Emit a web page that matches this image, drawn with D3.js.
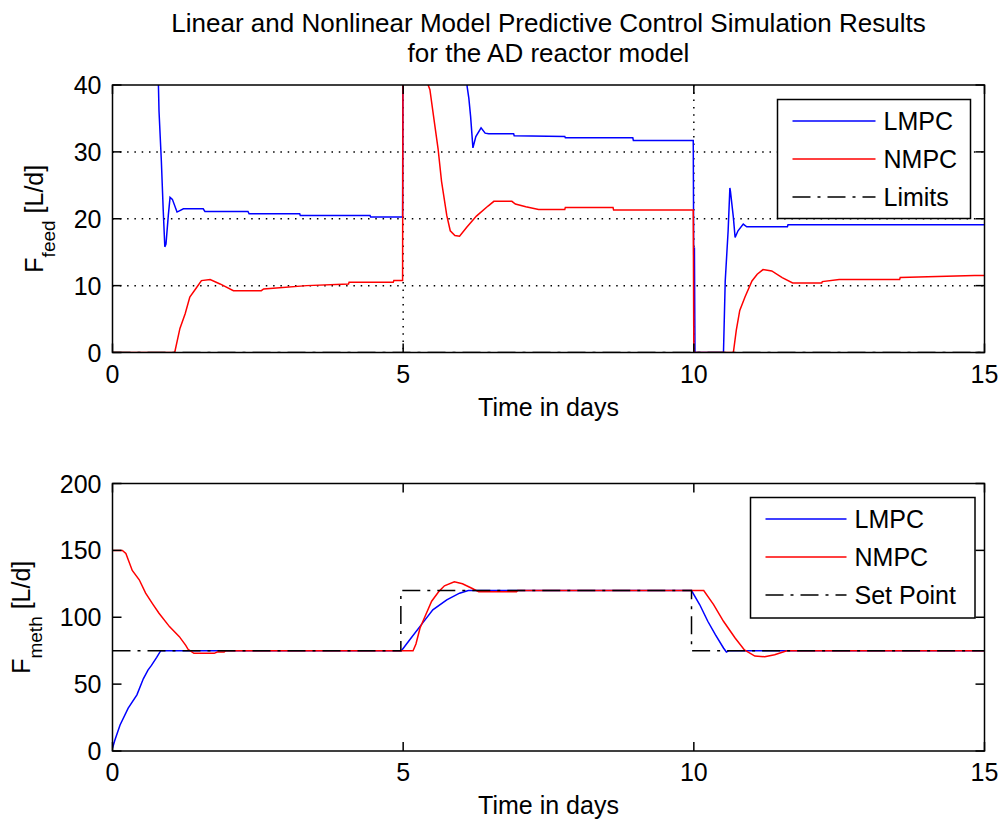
<!DOCTYPE html>
<html><head><meta charset="utf-8">
<script src="https://cdn.jsdelivr.net/npm/d3@7"></script>
<style>
body{margin:0;background:#fff;}
svg{display:block;}
text{font-family:"Liberation Sans",Arial,sans-serif;fill:#000;}
</style>
</head><body>
<svg id="c" width="999" height="825"></svg>
<script>
// ---------- data ----------
const titleLines = ["Linear and Nonlinear Model Predictive Control Simulation Results", "for the AD reactor model"];
const xLabel = "Time in days";
const xTicks = [0, 5, 10, 15];
const feedTicks = [0, 10, 20, 30, 40];
const methTicks = [0, 50, 100, 150, 200];
const feedGridX = [5, 10];
const feedGridY = [10, 20, 30];
const topLegend = ["LMPC", "NMPC", "Limits"];
const bottomLegend = ["LMPC", "NMPC", "Set Point"];

// F_feed, LMPC
const feedLmpcT = [0, 0.78, 0.79, 0.80, 0.84, 0.873, 0.90, 0.92, 0.96, 0.99, 1.03, 1.11, 1.22, 1.56, 1.59, 2.33, 2.35, 3.22, 3.23, 4.43, 4.44, 4.99,
  5.0, 6.09, 6.10, 6.13, 6.16, 6.20, 6.25, 6.34, 6.41, 6.47, 6.90, 6.91, 7.78, 7.79, 8.95, 8.96, 9.99,
  10.0, 10.01, 10.02, 10.5, 10.51, 10.54, 10.59, 10.62, 10.63, 10.68, 10.71, 10.76, 10.85, 10.91, 11.61, 11.62, 15];
const feedLmpcV = [60, 60, 40, 36.1, 28.7, 21.2, 15.8, 16.2, 20.5, 23.2, 22.9, 21.0, 21.5, 21.5, 21.1, 21.1, 20.75, 20.75, 20.5, 20.5, 20.25, 20.25,
  60, 60, 39.8, 38, 35.3, 30.6, 32.3, 33.6, 32.8, 32.7, 32.7, 32.4, 32.3, 32.1, 32.1, 31.7, 31.7,
  10.7, 15.7, 0, 0, 0, 10.7, 18.2, 24.6, 24.1, 20.2, 17.2, 18.2, 19.2, 18.8, 18.8, 19.1, 19.1];
// F_feed, NMPC
const feedNmpcT = [0, 1.07, 1.16, 1.25, 1.33, 1.45, 1.53, 1.68, 1.85, 2.08, 2.56, 2.60, 2.82, 3.34, 4.06, 4.07, 4.83, 4.84, 4.99,
  5.0, 5.42, 5.43, 5.46, 5.52, 5.60, 5.66, 5.75, 5.81, 5.89, 5.97, 6.09, 6.26, 6.46, 6.56, 6.87, 6.93, 7.11, 7.33, 7.78, 7.79, 8.61, 8.62, 9.99,
  10.0, 10.68, 10.73, 10.79, 10.88, 11.00, 11.09, 11.19, 11.34, 11.52, 11.70, 12.20, 12.21, 12.50, 13.54, 13.55, 14.83, 15];
const feedNmpcV = [0, 0, 3.6, 5.8, 8.3, 9.75, 10.75, 10.9, 10.25, 9.25, 9.25, 9.5, 9.65, 10, 10.25, 10.5, 10.5, 10.75, 10.75,
  60, 60, 40, 39.3, 35.5, 30.5, 25.6, 20.5, 18.2, 17.5, 17.4, 18.7, 20.4, 21.9, 22.6, 22.6, 22.2, 21.8, 21.4, 21.4, 21.7, 21.7, 21.3, 21.3,
  0, 0, 3.3, 6.3, 8.3, 10.7, 11.7, 12.4, 12.2, 11.2, 10.4, 10.4, 10.6, 10.9, 10.9, 11.2, 11.5, 11.5];
// F_feed limits
const feedLimitT = [0, 15];
const feedLimitLow = [0, 0];
const feedLimitHigh = [60, 60];

// F_meth, LMPC
const methLmpcT = [0, 0.04, 0.13, 0.27, 0.42, 0.53, 0.61, 0.67, 0.76, 0.83, 4.97, 5.11, 5.34, 5.51, 5.75, 5.97, 6.12, 9.96,
  10.10, 10.24, 10.37, 10.51, 10.56, 10.61, 15];
const methLmpcV = [2, 8, 19.5, 32, 42, 54, 60.5, 64, 70, 75, 75, 83, 96, 105.5, 113, 118, 120, 120,
  109.5, 97, 87, 77, 74, 75, 75];
// F_meth, NMPC
const methNmpcT = [0, 0.17, 0.23, 0.34, 0.46, 0.57, 0.69, 0.80, 0.98, 1.15, 1.26, 1.30, 1.40, 1.75, 1.80, 1.92, 1.95,
  5.17, 5.22, 5.29, 5.37, 5.49, 5.61, 5.71, 5.88, 6.02, 6.19, 6.30, 6.95, 6.97,
  10.17, 10.34, 10.51, 10.71, 10.87, 11.05, 11.22, 11.39, 11.60, 15];
const methNmpcV = [150, 150, 147.7, 135, 128, 118, 110, 103, 93, 85.5, 79, 76, 73, 73, 74, 74, 75,
  75, 80, 92, 100, 112, 119, 123.5, 126.5, 125, 121.5, 119, 119, 120,
  120, 109.5, 97, 84.5, 75.5, 71, 70.5, 72, 75, 75];
// F_meth set point
const methSetT = [0, 4.96, 4.96, 9.96, 9.96, 15];
const methSetV = [75, 75, 120, 120, 75, 75];

// ---------- drawing ----------
const svg = d3.select("#c");
const plotL = 112.5, plotR = 984.5;
const x = d3.scaleLinear().domain([0, 15]).range([plotL, plotR]);
const FS = 25;
const DASHDOT = "18,7,3,7";

svg.selectAll("text.title").data(titleLines).enter().append("text")
  .attr("x", (plotL + plotR) / 2).attr("y", (d, i) => 32 + i * 30)
  .attr("text-anchor", "middle").attr("font-size", 26).text(d => d);

function panel(cfg) {
  const y = d3.scaleLinear().domain(cfg.domain).range([cfg.bottom, cfg.top]);
  const g = svg.append("g");
  const clipId = "clip" + cfg.id;
  svg.append("clipPath").attr("id", clipId).append("rect")
    .attr("x", plotL).attr("y", cfg.top).attr("width", plotR - plotL).attr("height", cfg.bottom - cfg.top);

  // grid
  if (cfg.gridX) {
    g.selectAll("line.gx").data(cfg.gridX).enter().append("line")
      .attr("x1", d => x(d)).attr("x2", d => x(d)).attr("y1", cfg.top).attr("y2", cfg.bottom)
      .attr("stroke", "#000").attr("stroke-width", 1.5).attr("stroke-dasharray", "1.5,5.8");
    g.selectAll("line.gy").data(cfg.gridY).enter().append("line")
      .attr("y1", d => y(d)).attr("y2", d => y(d)).attr("x1", plotL).attr("x2", plotR)
      .attr("stroke", "#000").attr("stroke-width", 1.5).attr("stroke-dasharray", "1.5,5.8");
  }

  const line = d3.line().x(d => x(d[0])).y(d => y(d[1]));
  const dg = g.append("g").attr("clip-path", `url(#${clipId})`);
  cfg.series.forEach(s => {
    dg.append("path").datum(s.t.map((t, i) => [t, s.v[i]]))
      .attr("d", line).attr("fill", "none").attr("stroke", s.color)
      .attr("stroke-width", 1.5).attr("stroke-dasharray", s.dash || null);
  });

  // frame
  g.append("rect").attr("x", plotL).attr("y", cfg.top).attr("width", plotR - plotL).attr("height", cfg.bottom - cfg.top)
    .attr("fill", "none").attr("stroke", "#000").attr("stroke-width", 1.5);

  // ticks (inward, all four sides)
  const TL = 9;
  xTicks.forEach(t => {
    g.append("line").attr("x1", x(t)).attr("x2", x(t)).attr("y1", cfg.bottom).attr("y2", cfg.bottom - TL).attr("stroke", "#000").attr("stroke-width", 1.5);
    g.append("line").attr("x1", x(t)).attr("x2", x(t)).attr("y1", cfg.top).attr("y2", cfg.top + TL).attr("stroke", "#000").attr("stroke-width", 1.5);
  });
  cfg.yTicks.forEach(v => {
    g.append("line").attr("x1", plotL).attr("x2", plotL + TL).attr("y1", y(v)).attr("y2", y(v)).attr("stroke", "#000").attr("stroke-width", 1.5);
    g.append("line").attr("x1", plotR).attr("x2", plotR - TL).attr("y1", y(v)).attr("y2", y(v)).attr("stroke", "#000").attr("stroke-width", 1.5);
  });
  g.selectAll("text.xt").data(xTicks).enter().append("text")
    .attr("x", d => x(d)).attr("y", cfg.bottom + 30).attr("text-anchor", "middle").attr("font-size", FS).text(d => d);
  g.selectAll("text.yt").data(cfg.yTicks).enter().append("text")
    .attr("x", plotL - 11).attr("y", d => y(d) + 9).attr("text-anchor", "end").attr("font-size", FS).text(d => d);

  // axis labels
  g.append("text").attr("x", (plotL + plotR) / 2).attr("y", cfg.bottom + 63)
    .attr("text-anchor", "middle").attr("font-size", FS).text(xLabel);
  const yl = g.append("text").attr("transform", `translate(${cfg.labelX},${(cfg.top + cfg.bottom) / 2}) rotate(-90)`)
    .attr("text-anchor", "middle").attr("font-size", FS);
  yl.append("tspan").text("F");
  yl.append("tspan").attr("font-size", 19).attr("dy", 12).text(cfg.sub);
  yl.append("tspan").attr("dy", -12).text(" [L/d]");

  // legend
  const L = cfg.legend;
  const lg = g.append("g");
  lg.append("rect").attr("x", L.x).attr("y", L.y).attr("width", L.w).attr("height", L.h)
    .attr("fill", "#fff").attr("stroke", "#000").attr("stroke-width", 1.5);
  L.labels.forEach((lab, i) => {
    const s = cfg.series[i];
    const yy = L.y + 21.5 + i * 38;
    lg.append("line").attr("x1", L.x + 15).attr("x2", L.x + 15 + L.lineLen).attr("y1", yy).attr("y2", yy)
      .attr("stroke", s.color).attr("stroke-width", 1.5).attr("stroke-dasharray", s.dash || null);
    lg.append("text").attr("x", L.x + 15 + L.lineLen + 8).attr("y", yy + 9).attr("font-size", FS).text(lab);
  });
}

panel({
  id: 1, top: 85, bottom: 352.5, domain: [0, 40], yTicks: feedTicks, sub: "feed", labelX: 43,
  gridX: feedGridX, gridY: feedGridY,
  series: [
    {t: feedLmpcT, v: feedLmpcV, color: "#0000ff"},
    {t: feedNmpcT, v: feedNmpcV, color: "#ff0000"},
    {t: feedLimitT, v: feedLimitLow, color: "#000", dash: DASHDOT},
    {t: feedLimitT, v: feedLimitHigh, color: "#000", dash: DASHDOT}
  ],
  legend: {x: 777.5, y: 99.5, w: 193, h: 119, lineLen: 83, labels: topLegend}
});
panel({
  id: 2, top: 483.5, bottom: 751, domain: [0, 200], yTicks: methTicks, sub: "meth", labelX: 30,
  series: [
    {t: methLmpcT, v: methLmpcV, color: "#0000ff"},
    {t: methNmpcT, v: methNmpcV, color: "#ff0000"},
    {t: methSetT, v: methSetV, color: "#000", dash: DASHDOT}
  ],
  legend: {x: 750.5, y: 497.5, w: 224.5, h: 120.5, lineLen: 81, labels: bottomLegend}
});
</script>
</body></html>
